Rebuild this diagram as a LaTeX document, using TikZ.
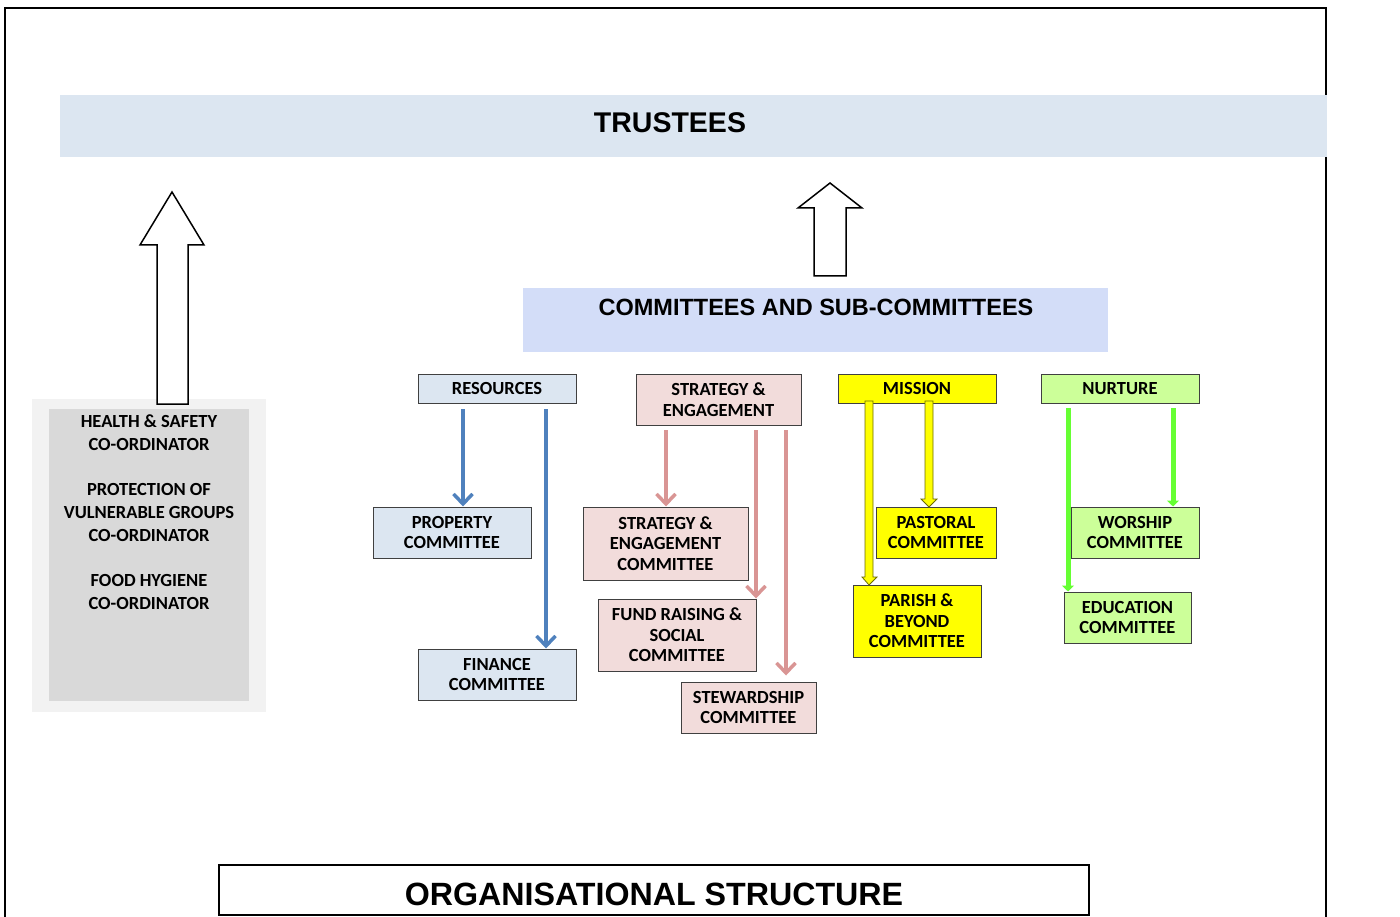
\documentclass[tikz,border=0pt]{standalone}
\usepackage{fontspec}
\newfontfamily\carl{Carlito}
\newfontfamily\arl{Liberation Sans}
\usetikzlibrary{arrows.meta}
\definecolor{trust}{HTML}{DCE6F1}
\definecolor{commbg}{HTML}{D3DDF8}
\definecolor{resbg}{HTML}{DCE6F1}
\definecolor{sebg}{HTML}{F2DCDB}
\definecolor{misbg}{HTML}{FFFF00}
\definecolor{nurbg}{HTML}{CCFF99}
\definecolor{grayout}{HTML}{F2F2F2}
\definecolor{grayin}{HTML}{D9D9D9}
\definecolor{bluearr}{HTML}{4F81BD}
\definecolor{pinkarr}{HTML}{D99594}
\definecolor{greenarr}{HTML}{66FF33}
\definecolor{boxline}{HTML}{404040}
\definecolor{yline}{HTML}{6B6B00}
\tikzset{
  cbox/.style={draw=boxline, line width=1pt, inner sep=0pt, align=center,
    font=\carl\bfseries\fontsize{18.5}{20.5}\selectfont},
  resbox/.style={cbox, fill=resbg},
  sebox/.style={cbox, fill=sebg},
  misbox/.style={cbox, fill=misbg},
  nurbox/.style={cbox, fill=nurbg},
  barr/.style={draw=bluearr, line width=3.5pt, -{Straight Barb[length=10pt,width=19pt]}},
  parr/.style={draw=pinkarr, line width=3.5pt, -{Straight Barb[length=10pt,width=19pt]}},
  garr/.style={draw=greenarr, line width=5pt, -{Triangle[length=6pt,width=12pt]}},
  yarr/.style={draw=yline, fill=misbg, line width=0.8pt},
  blockarr/.style={draw=black, fill=white, line width=1.5pt},
}
\begin{document}
\begin{tikzpicture}[x=1pt,y=-1pt]
\useasboundingbox (0,0) rectangle (1400,917);
% outer frame
\draw[line width=1.5pt] (5,917) -- (5,8) -- (1326,8) -- (1326,917);
% trustees band
\node[fill=trust, inner sep=0pt, minimum width=1267pt, minimum height=62pt] (trustees) at (693.5,126) {};
\node[font=\arl\bfseries\fontsize{28.5}{32}\selectfont, inner sep=0pt] (trusteestxt) at (670,123) {TRUSTEES};
% committees band
\node[fill=commbg, inner sep=0pt, minimum width=585pt, minimum height=64pt] (comm) at (815.5,320) {};
\node[font=\arl\bfseries\fontsize{23.5}{27}\selectfont, inner sep=0pt] (commtxt) at (816,307) {COMMITTEES AND SUB-COMMITTEES};
% right block arrow
\draw[blockarr] (814,276) -- (814,208) -- (798,208) -- (830,183) -- (862,208) -- (846,208) -- (846,276) -- cycle;
% left gray block
\node[fill=grayout, inner sep=0pt, minimum width=234pt, minimum height=313pt] (hsout) at (149,555.5) {};
\node[fill=grayin, inner sep=0pt, minimum width=200pt, minimum height=292pt] (hsin) at (149,555) {};
\node[align=center, inner sep=0pt, anchor=north, font=\carl\bfseries\fontsize{18.5}{23}\selectfont] (hstext) at (149,415) {HEALTH \& SAFETY\\CO-ORDINATOR\\[22pt]PROTECTION OF\\VULNERABLE GROUPS\\CO-ORDINATOR\\[22pt]FOOD HYGIENE\\CO-ORDINATOR};
% left block arrow
\draw[blockarr] (157,404) -- (157,245) -- (140,245) -- (172,192) -- (204,245) -- (188,245) -- (188,404) -- cycle;
% Resources column
\node[resbox, minimum width=158pt, minimum height=29pt] (res) at (497,388.5) {RESOURCES};
\node[resbox, minimum width=158pt, minimum height=51pt] (prop) at (452,532.5) {PROPERTY\\COMMITTEE};
\node[resbox, minimum width=158pt, minimum height=51pt] (fin) at (497,674.5) {FINANCE\\COMMITTEE};
\draw[barr] (463,409) -- (463,0 |- prop.north);
\draw[barr] (546,409) -- (546,0 |- fin.north);
% Strategy column
\node[sebox, minimum width=165pt, minimum height=51pt] (se) at (718.5,399.5) {STRATEGY \&\\ENGAGEMENT};
\node[sebox, minimum width=165pt, minimum height=73pt] (sec) at (665.5,543.5) {STRATEGY \&\\ENGAGEMENT\\COMMITTEE};
\node[sebox, minimum width=158pt, minimum height=72pt] (fund) at (677,635) {FUND RAISING \&\\SOCIAL\\COMMITTEE};
\node[sebox, minimum width=135pt, minimum height=51pt] (stew) at (748.5,707.5) {STEWARDSHIP\\COMMITTEE};
\draw[parr] (666,430) -- (666,0 |- sec.north);
\draw[parr] (756,430) -- (756,0 |- fund.north);
\draw[parr, shorten >=6pt] (786,430) -- (786,0 |- stew.north);
% Mission column
\node[misbox, minimum width=158pt, minimum height=29pt] (mis) at (917,388.5) {MISSION};
\node[misbox, minimum width=120pt, minimum height=51pt] (past) at (936,532.5) {PASTORAL\\COMMITTEE};
\node[misbox, minimum width=128pt, minimum height=72pt] (par) at (917,621) {PARISH \&\\BEYOND\\COMMITTEE};
\draw[yarr] (865,401) -- (865,577) -- (862,577) -- (869,585) -- (877,577) -- (873,577) -- (873,401) -- cycle;
\draw[yarr] (925,401) -- (925,499) -- (921,499) -- (929,507) -- (937,499) -- (933,499) -- (933,401) -- cycle;
% Nurture column
\node[nurbox, minimum width=158pt, minimum height=29pt] (nur) at (1120,388.5) {NURTURE};
\node[nurbox, minimum width=128pt, minimum height=51pt] (wor) at (1135,532.5) {WORSHIP\\COMMITTEE};
\node[nurbox, minimum width=127pt, minimum height=51pt] (edu) at (1127.5,617.5) {EDUCATION\\COMMITTEE};
\draw[garr] (1068,408) -- (1068,0 |- edu.north);
\draw[garr] (1173,408) -- (1173,0 |- wor.north);
% title box
\node[draw=black, line width=1.5pt, fill=white, inner sep=0pt, minimum width=870pt, minimum height=50pt] (title) at (654,890) {};
\node[font=\arl\bfseries\fontsize{32.2}{36}\selectfont, inner sep=0pt] (titletxt) at (654,894) {ORGANISATIONAL STRUCTURE};
\end{tikzpicture}
\end{document}
